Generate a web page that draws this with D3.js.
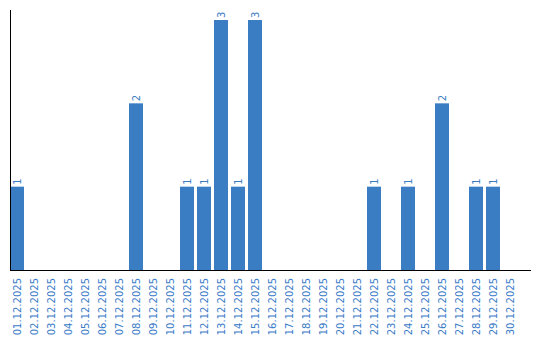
<!DOCTYPE html>
<html>
<head>
<meta charset="utf-8">
<script src="https://cdn.jsdelivr.net/npm/d3@7"></script>
<style>
  body { margin: 0; background: #fff; }
  text { font-family: "DejaVu Sans", sans-serif; }
</style>
</head>
<body>
<div id="chart"></div>
<script>
const days = d3.range(1, 31).map(d => String(d).padStart(2, "0") + ".12.2025");
const counts = [1, 0, 0, 0, 0, 0, 0, 2, 0, 0, 1, 1, 3, 1, 3, 0, 0, 0, 0, 0, 0, 1, 0, 1, 0, 2, 0, 1, 1, 0];
const data = days.map((d, i) => ({ day: d, count: counts[i] }));

const width = 540;
const height = 340;
const left = 10;
const baseline = 270;
const blue = "#3b7dc2";

const svg = d3.select("#chart")
    .append("svg")
    .attr("width", width)
    .attr("height", height);

const x = d3.scaleBand()
    .domain(days)
    .range([left, left + 30 * 17 - 3])
    .paddingInner(3 / 17)
    .paddingOuter(0);

const y = d3.scaleLinear()
    .domain([0, 3])
    .range([baseline, 20]);

svg.selectAll("rect.bar")
    .data(data.filter(d => d.count > 0))
    .enter()
    .append("rect")
    .attr("class", "bar")
    .attr("x", d => x(d.day))
    .attr("y", d => y(d.count))
    .attr("width", x.bandwidth())
    .attr("height", d => baseline - y(d.count))
    .attr("fill", blue);

svg.selectAll("text.val")
    .data(data.filter(d => d.count > 0))
    .enter()
    .append("text")
    .attr("class", "val")
    .attr("transform", d => `translate(${x(d.day) + x.bandwidth() / 2 + 3.5},${y(d.count) - 2}) rotate(-90)`)
    .attr("font-size", "10px")
    .attr("fill", blue)
    .text(d => d.count);

// x tick labels
svg.selectAll("text.tick")
    .data(days)
    .enter()
    .append("text")
    .attr("class", "tick")
    .attr("transform", d => `translate(${x(d) + x.bandwidth() / 2 + 3.5},${baseline + 8}) rotate(-90)`)
    .attr("text-anchor", "end")
    .attr("font-size", "10px")
    .attr("fill", "#3a7bc8")
    .text(d => d);

// axes lines
svg.append("line")
    .attr("x1", left + 0.5).attr("x2", left + 0.5)
    .attr("y1", 10).attr("y2", baseline)
    .attr("stroke", "#000");

svg.append("line")
    .attr("x1", left).attr("x2", 531)
    .attr("y1", baseline + 0.5).attr("y2", baseline + 0.5)
    .attr("stroke", "#000");
</script>
</body>
</html>
